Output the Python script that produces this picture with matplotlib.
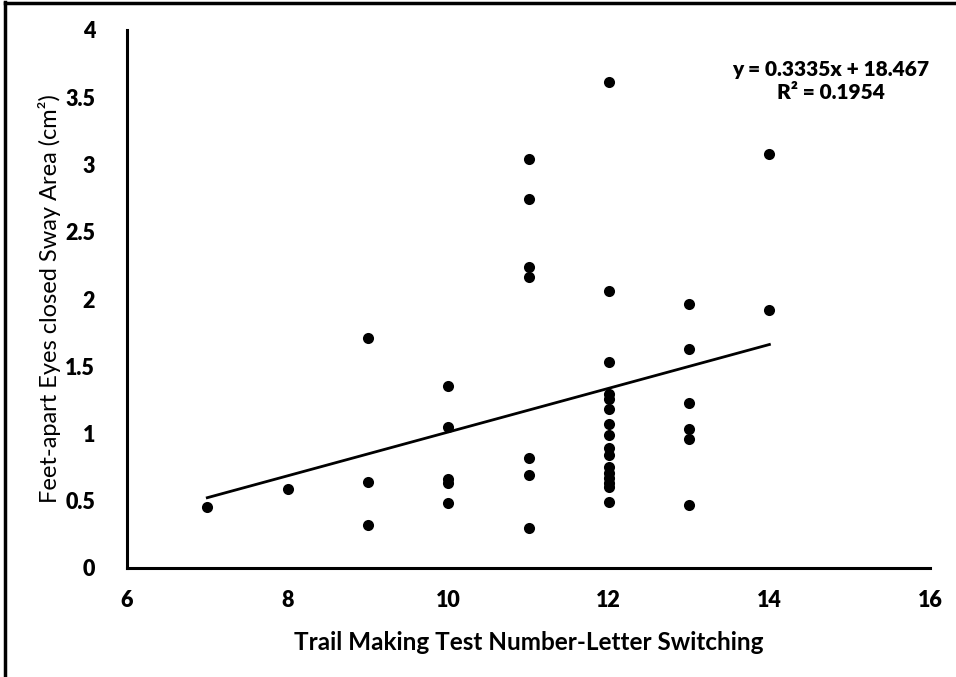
import matplotlib
matplotlib.use("Agg")
import matplotlib.pyplot as plt
from matplotlib.lines import Line2D
import numpy as np

# ---- data ----
x_vals = [7,
          8,
          9, 9, 9,
          10, 10, 10, 10, 10,
          11, 11, 11, 11, 11, 11, 11,
          12, 12, 12, 12, 12, 12, 12, 12, 12, 12, 12, 12, 12, 12, 12, 12,
          13, 13, 13, 13, 13, 13,
          14, 14]
y_vals = [0.45,
          0.59,
          1.71, 0.64, 0.32,
          1.35, 1.05, 0.66, 0.63, 0.48,
          3.04, 2.74, 2.24, 2.16, 0.82, 0.69, 0.30,
          3.61, 2.06, 1.53, 1.29, 1.26, 1.18, 1.07, 0.99, 0.89, 0.84, 0.75, 0.71, 0.67, 0.63, 0.60, 0.49,
          1.96, 1.63, 1.23, 1.03, 0.96, 0.47,
          3.08, 1.92]
x_ticks = [6, 8, 10, 12, 14, 16]
x_tick_labels = ["6", "8", "10", "12", "14", "16"]
y_ticks = [0, 0.5, 1, 1.5, 2, 2.5, 3, 3.5, 4]
y_tick_labels = ["0", "0.5", "1", "1.5", "2", "2.5", "3", "3.5", "4"]
equation_text = "y = 0.3335x + 18.467\nR² = 0.1954"
x_label = "Trail Making Test Number-Letter Switching"
y_label = "Feet-apart Eyes closed Sway Area (cm²)"

plt.rcParams['font.family'] = ['Lato', 'DejaVu Sans']

fig = plt.figure(figsize=(9.56, 6.77), dpi=100)
ax = fig.add_axes([127/956, 1-568/677, (930-127)/956, (568-30)/677])

xa = np.array(x_vals, dtype=float)
ya = np.array(y_vals, dtype=float)
ax.scatter(xa, ya, s=64, color='black', zorder=3, linewidths=0)

slope, intercept = np.polyfit(xa, ya, 1)
xl = np.array([xa.min(), xa.max()])
ax.plot(xl, slope*xl + intercept, color='black', lw=2, zorder=2)

ax.set_xlim(6, 16)
ax.set_ylim(0, 4)
ax.set_xticks(x_ticks)
ax.set_xticklabels(x_tick_labels)
ax.set_yticks(y_ticks)
ax.set_yticklabels(y_tick_labels)
ax.tick_params(length=0, labelsize=15.5)
ax.tick_params(axis='x', pad=16)
ax.tick_params(axis='y', pad=23)
for lab in ax.get_xticklabels() + ax.get_yticklabels():
    lab.set_fontweight(800)

for s in ['top', 'right']:
    ax.spines[s].set_visible(False)
for s in ['left', 'bottom']:
    ax.spines[s].set_linewidth(2.2)
    ax.spines[s].set_color('black')

ax.set_xlabel(x_label, fontsize=17.5, fontweight='bold', labelpad=14)
ax.set_ylabel(y_label, fontsize=17, fontweight='normal')
ax.yaxis.set_label_coords(-(127-61)/803, 0.5)

ax.text(831/956, 1-81/677, equation_text, transform=fig.transFigure,
        ha='center', va='center', fontsize=15, fontweight=800,
        linespacing=1.2)

# figure frame (left and top edges)
fig.add_artist(Line2D([5/956, 5/956], [0, 1-2/677], transform=fig.transFigure,
                      color='black', lw=2.5))
fig.add_artist(Line2D([5/956, 1], [1-3/677, 1-3/677], transform=fig.transFigure,
                      color='black', lw=2.5))

fig.savefig("out.png", dpi=100)
